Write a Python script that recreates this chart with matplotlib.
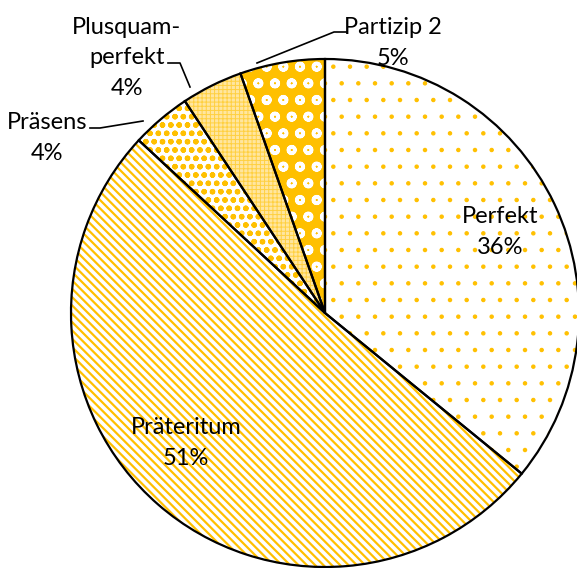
import matplotlib
matplotlib.use("Agg")
import matplotlib.pyplot as plt
from matplotlib.lines import Line2D

# data (clockwise from 12 o'clock)
labels = ["Perfekt", "Präteritum", "Präsens", "Plusquam-\nperfekt", "Partizip 2"]
values = [35.9, 51.0, 3.8, 3.9, 5.4]

GOLD = "#FFC000"
W, H = 577, 568

# fill / hatch styles per slice
faces = ["white", "white", "white", "#FFE6A0", GOLD]
hatch_colors = [GOLD, GOLD, GOLD, "#FFD040", "white"]
hatches = [".", "\\\\\\\\", "oo", "++++", "o"]
hatch_lws = [0.8, 1.6, 1.6, 0.7, 2.5]

plt.rcParams["font.family"] = ["Lato", "DejaVu Sans"]

fig = plt.figure(figsize=(W / 100, H / 100), dpi=100)
cx, cy, r = 325, 313, 254
ax = fig.add_axes([(cx - r) / W, (H - cy - r) / H, 2 * r / W, 2 * r / H])

# layer 1: fills + hatches (no outline)
wedges, _ = ax.pie(values, startangle=90, counterclock=False, radius=1)
for w, fc, hc, hp, hl in zip(wedges, faces, hatch_colors, hatches, hatch_lws):
    w.set_facecolor(fc)
    w.set_edgecolor(hc)
    w.set_linewidth(0)
    w.set_hatch(hp)
    if hasattr(w, "set_hatch_linewidth"):
        w.set_hatch_linewidth(hl)

# layer 2: black outlines
outl, _ = ax.pie(values, startangle=90, counterclock=False, radius=1,
                 wedgeprops=dict(fill=False, edgecolor="black", linewidth=1.6))
ax.set_xlim(-1, 1)
ax.set_ylim(-1, 1)
ax.axis("off")

total = sum(values)
pct = [f"{round(v / total * 100)}%" for v in values]

def px(x, y):
    return x / W, 1 - y / H

# label positions in pixels (center of text block)
label_pos = [(500, 232), (186, 443), (47, 138), (127, 58), (393, 43)]
for lab, p, (x, y) in zip(labels, pct, label_pos):
    fig.text(*px(x, y), f"{lab}\n{p}", ha="center", va="center",
             fontsize=17, linespacing=1.58, color="black")

# leader lines for the small slices
leaders = [
    [(90, 128), (100, 128), (143, 121)],
    [(168, 63), (180, 63), (190, 87)],
    [(347, 32), (334, 32), (257, 63)],
]
for pts in leaders:
    xs = [p[0] / W for p in pts]
    ys = [1 - p[1] / H for p in pts]
    fig.add_artist(Line2D(xs, ys, color="black", linewidth=1.2,
                          transform=fig.transFigure))

fig.savefig("out.png", dpi=100)
